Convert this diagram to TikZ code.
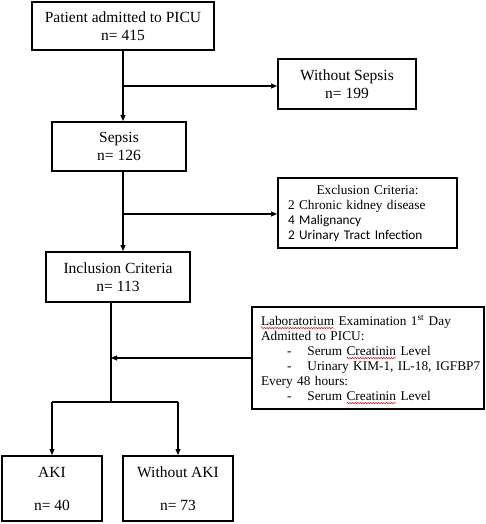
\documentclass[tikz,border=0pt]{standalone}
\usepackage{fontspec}
\setmainfont{Liberation Serif}
\newfontfamily\calibri{Carlito}
\usetikzlibrary{arrows.meta,decorations.pathmorphing}
\newsavebox\wavebox
\newcommand\spellwave[1]{\sbox\wavebox{#1}\rlap{\tikz[overlay,baseline=0pt]
  \draw[red, line width=.5pt, decorate, decoration={snake,amplitude=.7pt,segment length=2.6pt}]
    (0pt,-2.4pt) -- (\wd\wavebox,-2.4pt);}\usebox\wavebox}
\newcommand\labitem[1]{\mbox{\hspace*{26pt}-\hspace*{16pt}#1}}
\tikzset{
  box/.style={draw, line width=2pt, align=center, inner sep=0pt,
    font=\fontsize{15.5}{17.5}\selectfont},
  small/.style={font=\fontsize{13.3}{15}\selectfont},
  link/.style={line width=1.1pt},
  >={Triangle[length=6pt,width=5pt]}
}
\begin{document}
\begin{tikzpicture}[x=1pt,y=-1pt]
\useasboundingbox (0,0) rectangle (486,524);
% boxes
\node[box, minimum width=182, minimum height=48] (pat) at (123,26) {Patient admitted to PICU\\n= 415};
\node[box, minimum width=138, minimum height=50] (nosep) at (347,84) {Without Sepsis\\n= 199};
\node[box, minimum width=134, minimum height=49] (sep) at (119,146.5) {Sepsis\\n= 126};
\node[box, small, text width=159pt, inner xsep=10pt, align=left, minimum height=70] (excl) at (367.5,213)
  {{\centering Exclusion Criteria:\par}2 Chronic kidney disease\\{\calibri 4 Malignancy}\\{\calibri 2 Urinary Tract Infection}};
\node[box, minimum width=144, minimum height=50] (incl) at (118,277) {Inclusion Criteria\\n= 113};
\node[box, small, text width=214pt, inner xsep=9pt, align=left, minimum height=102] (lab) at (368,358)
  {\spellwave{Laboratorium} Examination 1\textsuperscript{st} Day\\
   Admitted to PICU:\\
   \labitem{Serum \spellwave{Creatinin} Level}\\
   \labitem{Urinary KIM-1, IL-18, IGFBP7}\\
   Every 48 hours:\\
   \labitem{Serum \spellwave{Creatinin} Level}};
\node[box, minimum width=100, minimum height=65] (aki) at (52,488.5) {AKI\\[15.5pt]n= 40};
\node[box, minimum width=110, minimum height=65] (noaki) at (178,488.5) {Without AKI\\[15.5pt]n= 73};
% connectors
\coordinate (s1) at (123,86);
\coordinate (s2) at (123,214);
\coordinate (s3) at (111,402);
\draw[link, ->] (pat.south) -- (pat.south |- sep.north);
\draw[link, ->] (s1) -- (s1 -| nosep.west);
\draw[link, ->] (sep.south -| pat.south) -- (incl.north -| pat.south);
\draw[link, ->] (s2) -- (s2 -| excl.west);
\draw[link] (incl.south -| s3) -- (s3);
\draw[link, ->] (lab.west) -- (lab.west -| s3);
\draw[link] (aki.north |- s3) -- (noaki.north |- s3);
\draw[link, ->] (aki.north |- s3) -- (aki.north);
\draw[link, ->] (noaki.north |- s3) -- (noaki.north);
\end{tikzpicture}
\end{document}
